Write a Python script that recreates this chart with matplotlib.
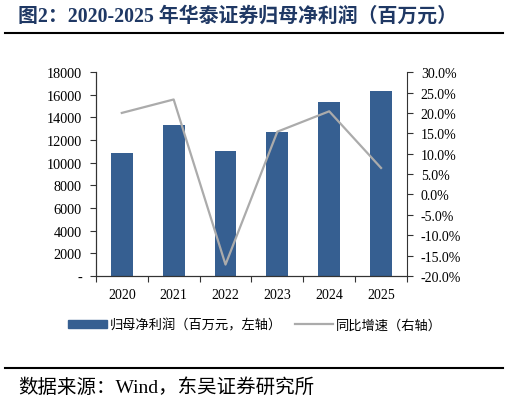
import matplotlib
matplotlib.use("Agg")
import matplotlib.pyplot as plt
from matplotlib.ticker import FuncFormatter, FixedLocator
from matplotlib.lines import Line2D
from matplotlib.patches import Patch

years = ['2020', '2021', '2022', '2023', '2024', '2025']
profit = [10822, 13346, 11053, 12751, 15351, 16350]   # 百万元
growth = [20.0, 23.3, -17.2, 15.4, 20.4, 6.5]         # %

fonts = ['Liberation Serif', 'Noto Sans CJK SC', 'DejaVu Sans']
plt.rcParams['font.family'] = fonts

bar_color = '#365F91'
line_color = '#ABABAB'

fig = plt.figure(figsize=(5.1, 4.02), dpi=100)
ax = fig.add_axes([0.188, 0.311, 0.610, 0.507])
ax2 = ax.twinx()

x = list(range(len(years)))
ax.bar(x, profit, width=0.42, color=bar_color, zorder=2)
ax2.plot(x, growth, color=line_color, lw=1.6, zorder=3)

ax.set_xlim(-0.5, len(years) - 0.5)
ax.set_ylim(0, 18000)
ax.set_yticks(range(0, 18001, 2000))
ax.yaxis.set_major_formatter(FuncFormatter(lambda v, p: '-' if v == 0 else f'{int(v)}'))
ax2.set_ylim(-20, 30)
ax2.set_yticks(range(-20, 31, 5))
ax2.yaxis.set_major_formatter(FuncFormatter(lambda v, p: f'{v:.1f}%'))

# x ticks at category boundaries, labels in the middle
ax.xaxis.set_major_locator(FixedLocator([i - 0.5 for i in range(len(years) + 1)]))
ax.xaxis.set_major_formatter(FuncFormatter(lambda v, p: ''))
ax.xaxis.set_minor_locator(FixedLocator(x))
ax.set_xticklabels(years, minor=True)
ax.tick_params(axis='x', which='minor', length=0, pad=9, labelsize=10)
ax.tick_params(axis='x', which='major', length=4, direction='out', color='#333333')
ax.tick_params(axis='y', length=4, direction='out', labelsize=10.3, pad=6, color='#333333')
ax2.tick_params(axis='y', length=4, direction='out', labelsize=10, pad=6, color='#333333')

for a in (ax, ax2):
    a.spines['top'].set_visible(False)
for s in ('left', 'right', 'bottom'):
    ax2.spines[s].set_color('#333333')
ax.spines['left'].set_color('#333333')
ax.spines['bottom'].set_color('#333333')
ax.spines['right'].set_visible(False)

handles = [Patch(color=bar_color), Line2D([], [], color=line_color, lw=1.6)]
labels = ['归母净利润（百万元，左轴）', '同比增速（右轴）']
fig.legend(handles, labels, loc='center', bbox_to_anchor=(0.5, 0.189), ncol=2, frameon=False,
           prop={'family': ['Noto Sans CJK SC'], 'size': 9.5}, handlelength=2.9,
           handleheight=0.5, columnspacing=1.0, handletextpad=0.2)

fig.text(0.035, 0.958, '图2：2020-2025 年华泰证券归母净利润（百万元）', fontsize=14.3,
         fontweight='bold', color='#1F3864', va='center', ha='left')
fig.add_artist(Line2D([0.01, 0.987], [0.915, 0.915], color='black', lw=1.5, transform=fig.transFigure))
fig.add_artist(Line2D([0.01, 0.987], [0.082, 0.082], color='black', lw=1.5, transform=fig.transFigure))
fig.text(0.035, 0.037, '数据来源：Wind，东吴证券研究所', fontsize=14, color='black',
         va='center', ha='left')

fig.savefig('out.png', dpi=100)
